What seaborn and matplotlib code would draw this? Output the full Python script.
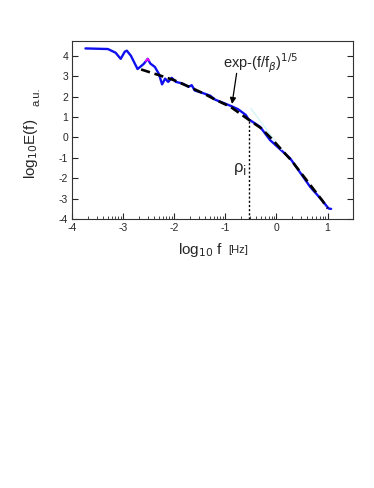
import numpy as np
import pandas as pd
import seaborn as sns
import matplotlib.pyplot as plt
from matplotlib.ticker import FixedLocator

# 数据
log_f = [-3.74, -3.3, -3.15, -3.05, -2.97, -2.93, -2.85, -2.72, -2.6, -2.52,
         -2.47, -2.38, -2.3, -2.24, -2.18, -2.12, -2.05, -1.97, -1.85, -1.72,
         -1.66, -1.6, -1.45, -1.3, -1.2, -1.0, -0.87, -0.75, -0.6, -0.55,
         -0.32, -0.125, 0.27, 0.66, 0.9, 1.02, 1.07]
log_E = [4.36, 4.33, 4.15, 3.85, 4.2, 4.25, 4.0, 3.35, 3.6, 3.85,
         3.62, 3.45, 3.1, 2.6, 2.88, 2.72, 2.92, 2.72, 2.65, 2.48,
         2.56, 2.3, 2.18, 2.05, 1.85, 1.65, 1.52, 1.38, 1.1, 0.9,
         0.52, -0.13, -1.03, -2.42, -3.1, -3.48, -3.5]

fit_f = [-2.65, -2.3, -2.0, -1.7, -1.4, -1.2, -0.9, -0.55, -0.3, -0.1, 0.1, 0.3, 0.5, 0.7, 0.9, 1.0]
fit_E = [3.33, 3.05, 2.8, 2.47, 2.12, 1.85, 1.5, 0.88, 0.45, -0.05, -0.6, -1.15, -1.8, -2.45, -3.1, -3.47]

rho_i = -0.53
rho_top = 0.9

sns.set_style("ticks")
plt.rcParams['font.family'] = ['Liberation Sans', 'DejaVu Sans']
plt.rcParams['axes.unicode_minus'] = False

fig = plt.figure(figsize=(3.74, 4.88), dpi=100)
ax = fig.add_axes([0.193, 0.551, 0.751, 0.364])

df = pd.DataFrame({"f": log_f, "E": log_E})
fit = pd.DataFrame({"f": fit_f, "E": fit_E})

sns.lineplot(data=df, x="f", y="E", ax=ax, color="#1010ee", lw=1.7, sort=False)
ax.plot([-2.56, -2.52, -2.49], [3.74, 3.85, 3.76], color="magenta", lw=1.2)
ax.plot([-0.5, 0.1], [1.42, -0.6], color="#ccf5f5", lw=0.8)
sns.lineplot(data=fit, x="f", y="E", ax=ax, color="black", lw=1.9, sort=False,
             linestyle=(0, (3.5, 1.8)))
ax.plot([rho_i, rho_i], [-4, rho_top], color="black", lw=1.0, linestyle=(0, (1.5, 1.5)))

ax.text(-0.57, -1.55, r"ρ$_\mathrm{i}$", fontsize=12, ha="right", va="center")
ax.text(-1.04, 3.64, r"exp-(f/f$_\beta$)$^{1/5}$", fontsize=10.5, ha="left", va="center")
ax.annotate("", xy=(-0.87, 1.64), xytext=(-0.78, 3.14),
            arrowprops=dict(arrowstyle="-|>", color="black", lw=0.9,
                            shrinkA=0, shrinkB=0, mutation_scale=9))

ax.set_xlim(-4, 1.5)
ax.set_ylim(-4, 4.7)
ax.set_xticks([-4, -3, -2, -1, 0, 1])
ax.set_yticks([-4, -3, -2, -1, 0, 1, 2, 3, 4])
minor = [d + np.log10(k) for d in range(-4, 1) for k in range(2, 10)]
ax.xaxis.set_minor_locator(FixedLocator(minor))
ax.tick_params(axis="both", which="major", direction="in", length=4, width=0.8,
               labelsize=7.5, pad=3, right=True)
ax.tick_params(axis="x", which="minor", direction="in", length=2, width=0.6)
for s in ax.spines.values():
    s.set_linewidth(0.8)
    s.set_color("#333333")

ax.set_xlabel("")
ax.set_ylabel("")
fig.text(0.596, 0.488, r"log$_{10}$ f", fontsize=11, ha="right", va="center")
fig.text(0.61, 0.488, "[Hz]", fontsize=8, ha="left", va="center")
fig.text(0.083, 0.695, r"log$_{10}$E(f)", fontsize=11, rotation=90, ha="center", va="center")
fig.text(0.098, 0.801, "a.u.", fontsize=8, rotation=90, ha="center", va="center")

fig.savefig("out.png", dpi=100)
